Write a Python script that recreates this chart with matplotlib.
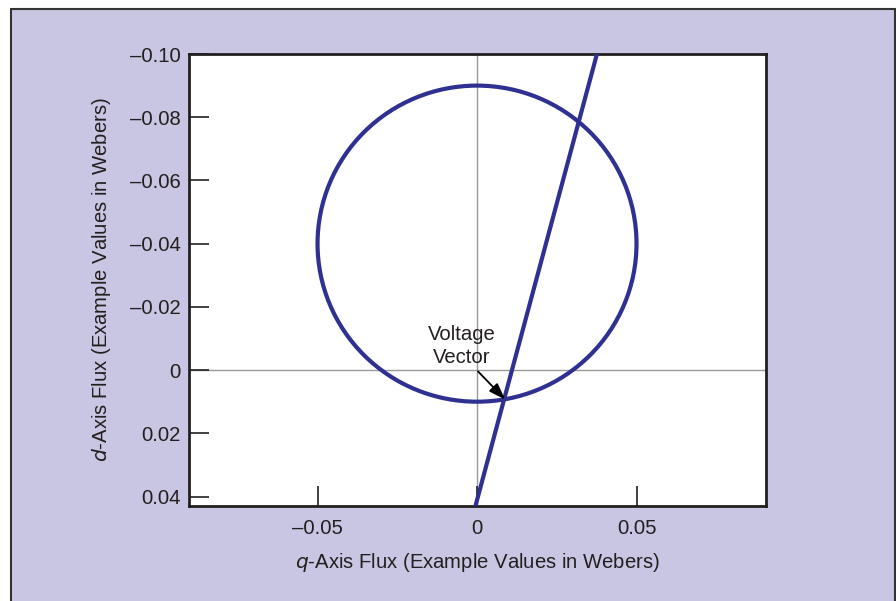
import matplotlib
matplotlib.use("Agg")
import matplotlib.pyplot as plt
from matplotlib.patches import Rectangle, Circle

plt.rcParams['font.family'] = ['Liberation Sans', 'DejaVu Sans']

# ---- data ----
circle_center = (0.0, -0.04)      # (q, d)
circle_radius = 0.05
line_q = [-0.0005, 0.0376]
line_d = [0.043, -0.10]
x_ticks = [-0.05, 0.0, 0.05]
x_tick_labels = ["\u20130.05", "0", "0.05"]
y_ticks = [-0.10, -0.08, -0.06, -0.04, -0.02, 0.0, 0.02, 0.04]
y_tick_labels = ["\u20130.10", "\u20130.08", "\u20130.06", "\u20130.04", "\u20130.02", "0", "0.02", "0.04"]
annot_text = "Voltage\nVector"
annot_text_pos = (-0.0047, -0.0076)
annot_tail = (0.0003, 0.0004)
annot_head = (0.0088, 0.0093)

BLUE = "#2e3192"
LAV = "#c8c6e2"
DARK = "#231f20"
FS = 14.6

fig = plt.figure(figsize=(8.96, 6.01), dpi=100, facecolor="white")
bg = Rectangle((11/896, -0.05), 884/896, 1.05 - 9/601,
               transform=fig.transFigure, facecolor=LAV,
               edgecolor="#333333", lw=1.5, zorder=-10)
fig.add_artist(bg)

ax = fig.add_axes([189/896, 1 - 506/601, 577/896, 452/601])
ax.set_zorder(5)
ax.set_facecolor("white")
ax.set_xlim(-0.0903, 0.0906)
ax.set_ylim(0.043, -0.10)

ax.axhline(0, color="#999999", lw=1.0, zorder=1)
ax.axvline(0, color="#999999", lw=1.0, zorder=1)

ax.add_patch(Circle(circle_center, circle_radius, fill=False,
                    edgecolor=BLUE, lw=3.0, zorder=3))
ax.plot(line_q, line_d, color=BLUE, lw=3.0, zorder=3, solid_capstyle="butt")

ax.text(annot_text_pos[0], annot_text_pos[1], annot_text, ha="center",
        va="center", fontsize=FS, color=DARK, linespacing=1.25, zorder=4)
ax.annotate("", xy=annot_head, xytext=annot_tail,
            arrowprops=dict(arrowstyle="-|>,head_length=1.0,head_width=0.35",
                            color="black", lw=1.3, shrinkA=0, shrinkB=0),
            zorder=4)

ax.set_xticks(x_ticks)
ax.set_xticklabels(x_tick_labels)
ax.set_yticks(y_ticks)
ax.set_yticklabels(y_tick_labels)
ax.tick_params(direction="in", length=14.5, width=1.2, color=DARK,
               labelsize=FS, labelcolor=DARK)
ax.tick_params(axis="x", pad=9)
ax.tick_params(axis="y", pad=6)
for s in ax.spines.values():
    s.set_linewidth(2.0)
    s.set_color(DARK)

ax.set_xlabel(r"$\it{q}$-Axis Flux (Example Values in Webers)", fontsize=FS,
              color=DARK, labelpad=10)
ax.set_ylabel(r"$\it{d}$-Axis Flux (Example Values in Webers)", fontsize=FS,
              color=DARK, labelpad=12)

fig.savefig("out.png", dpi=100, facecolor="white")
